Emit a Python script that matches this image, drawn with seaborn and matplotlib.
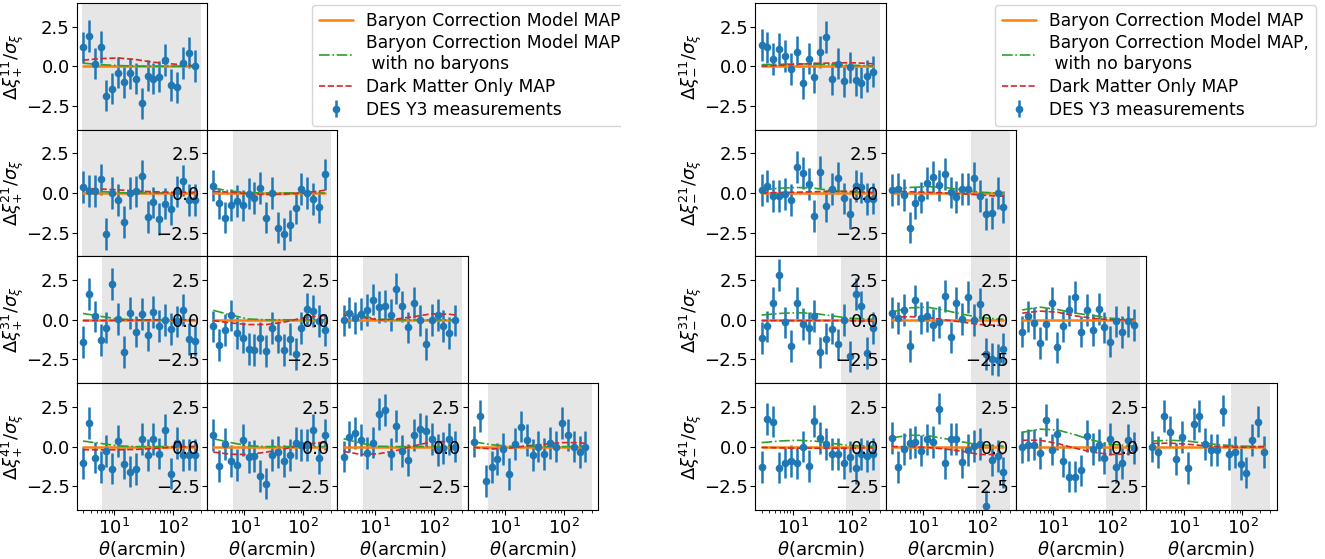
import matplotlib
matplotlib.use("Agg")
import matplotlib.pyplot as plt
from matplotlib.patches import Rectangle
import seaborn as sns

# angular bins (arcmin) of the DES Y3 data vector
theta = [2.94, 3.70, 4.66, 5.87, 7.39, 9.30, 11.71, 14.74, 18.56, 23.36,
         29.41, 37.03, 46.61, 58.68, 73.87, 93.00, 117.1, 147.4, 185.6, 233.5]
# nodes where the model curves are tabulated
theta_model = [2.94, 5.87, 11.71, 23.36, 46.61, 93.0, 185.6, 233.5]
bcm_map = [0.0, 0.0, 0.0, 0.0, 0.0, 0.0, 0.0, 0.0]
err = 1.0  # residuals are in units of sigma

bins = ["11", "21", "22", "31", "32", "33", "41", "42", "43", "44"]

# xi_plus residuals
xip_11 = [1.18, 1.91, 0.17, 1.22, -1.85, -1.41, -0.40, -1.01, -0.46, -0.78, -2.35, -0.59, -0.78, -0.65, 0.40, -1.18, -1.34, 0.21, 0.86, 0.0]
xip_21 = [0.38, 0.13, 0.13, 0.86, -2.60, 0.0, -0.46, -1.85, 0.0, 0.10, 1.07, -1.51, -0.59, -1.62, -0.67, -0.99, 0.10, 0.78, -0.44, -0.44]
xip_22 = [0.47, -0.66, -1.55, -0.74, -0.49, -0.78, -0.04, -0.32, 0.30, -1.55, 0.0, -2.18, -2.60, -2.05, -0.97, 0.25, 0.0, -0.40, -0.89, 1.17]
xip_31 = [-1.40, 1.63, 0.21, -1.27, -0.49, 2.25, 0.06, -2.01, 0.42, -0.74, 0.38, -0.95, 0.51, -0.38, 0.0, -0.57, -0.10, 0.64, -1.19, -1.31]
xip_32 = [-0.42, -1.59, -0.66, 0.28, -0.85, -1.12, -1.84, -1.91, -1.17, -1.95, -0.53, -1.12, -1.91, -1.19, -2.16, -0.53, 0.68, 0.55, -0.08, -0.66]
xip_33 = [-0.04, 0.46, 0.10, 0.38, 0.61, 1.28, 0.82, 0.88, 0.32, 1.97, 0.84, -0.48, 1.09, -0.04, -1.51, 0.0, 0.32, -0.38, -0.84, -0.04]
xip_41 = [-1.03, 1.49, -0.69, -1.30, -0.29, -1.39, 0.34, -1.07, -1.58, -1.41, 0.46, -0.55, 0.48, -0.44, 1.05, -1.70, 0.23, -0.53, -0.50, -0.55]
xip_42 = [0.74, -1.23, 0.17, -0.89, -1.14, 0.42, -0.64, -0.59, -1.84, -2.33, -0.55, -0.32, -0.89, -0.51, 0.21, 0.11, 0.11, 1.06, -0.74, 0.76]
xip_43 = [-0.63, 0.63, 0.84, 0.42, -0.42, 0.25, 2.04, 2.29, -0.46, 1.32, -0.27, -0.84, 0.74, 1.11, 0.99, 0.46, -0.21, -0.10, 0.46, 0.0]
xip_44 = [0.32, 1.93, -2.16, -1.30, -0.80, -0.17, -1.74, 0.17, 1.26, 0.42, -0.53, 0.0, -0.46, 0.21, 0.0, 1.51, 0.74, 0.0, -0.36, 0.0]

# xi_minus residuals
xim_11 = [1.32, 1.18, 0.46, 1.09, 0.63, -0.19, 0.92, -1.07, 0.48, -0.71, 0.90, 1.83, -0.80, 0.17, -0.95, -0.08, -0.90, -1.03, -0.63, -0.34]
xim_21 = [0.21, 0.42, -0.17, -0.17, -0.06, -0.42, 1.64, 1.28, 0.57, -1.45, 1.32, -0.80, 0.25, 0.97, -0.34, -1.30, 0.46, 0.35, -0.40, -0.35]
xim_22 = [0.21, 0.27, -0.11, -2.18, -0.61, -0.29, 0.63, 1.01, 0.48, 1.18, 0.04, -0.25, 0.25, 0.25, 0.97, -0.19, -1.32, -1.24, 0.02, -0.88]
xim_31 = [-1.13, -0.42, 1.05, 2.82, -0.17, -1.64, 1.05, -0.25, -0.50, 0.25, -2.06, -1.18, -0.55, -1.55, 0.0, -2.31, 1.64, 0.84, -2.08, -0.50]
xim_32 = [0.46, 0.10, 0.63, -1.64, 1.22, 0.10, 0.21, -0.32, -0.15, 1.51, -1.11, 1.05, 0.06, 1.43, 0.0, 0.99, -2.14, -2.46, -2.52, -1.85]
xim_33 = [-0.74, 0.21, -0.21, -1.47, -0.25, 1.05, -1.74, -0.42, 0.59, 1.45, -0.74, 0.63, -0.65, 0.69, -0.48, -1.37, -0.10, -0.76, -0.10, -0.34]
xim_41 = [-1.30, 1.72, 1.58, -1.32, -1.01, -0.90, -1.05, 0.0, -1.22, 1.62, 0.53, 0.17, -0.48, -0.48, -1.05, -0.63, -1.37, -0.48, -0.59, -0.48]
xim_42 = [0.55, -1.30, -0.15, 0.20, 0.30, -0.25, 0.45, 0.30, 2.40, -1.05, 0.49, 0.49, -1.00, -0.23, 0.02, 0.17, -3.75, -0.83, -0.61, -1.63]
xim_43 = [-0.04, 0.08, 0.13, -0.40, 1.67, -0.19, 0.80, -0.89, -1.89, -1.89, -1.50, 0.66, -0.13, 0.08, -0.74, 0.49, -1.31, -1.04, 0.44, -0.10]
xim_44 = [0.0, -0.36, 1.93, 0.95, -0.80, 0.59, -1.37, 1.43, 1.93, 0.15, -0.21, -0.21, 2.27, -0.48, -0.36, -1.11, -1.64, 0.42, 1.58, -0.32]

# Dark matter only MAP (dmo) and BCM MAP without baryons (nob), xi_plus
dmo_p11 = [0.38, 0.48, 0.52, 0.42, 0.25, 0.15, 0.06, 0.02]
nob_p11 = [0.19, 0.10, 0.04, 0.01, 0.0, 0.0, 0.0, 0.0]
dmo_p21 = [0.30, 0.25, 0.20, 0.12, 0.08, 0.05, 0.05, 0.05]
nob_p21 = [0.20, 0.10, 0.02, 0.0, 0.0, 0.0, 0.0, 0.0]
dmo_p22 = [0.10, 0.05, -0.05, -0.10, -0.08, 0.0, 0.12, 0.18]
nob_p22 = [0.30, 0.12, 0.02, 0.0, 0.0, 0.0, 0.0, 0.0]
dmo_p31 = [-0.05, -0.05, -0.03, -0.02, 0.0, 0.0, 0.0, 0.0]
nob_p31 = [0.40, 0.22, 0.05, 0.0, 0.0, 0.0, 0.0, 0.0]
dmo_p32 = [-0.05, -0.20, -0.30, -0.30, -0.15, 0.10, 0.25, 0.25]
nob_p32 = [0.60, 0.30, 0.05, 0.0, 0.0, 0.0, 0.0, 0.0]
dmo_p33 = [0.30, 0.15, 0.0, 0.05, 0.20, 0.38, 0.35, 0.30]
nob_p33 = [0.50, 0.25, 0.03, 0.0, 0.0, 0.0, 0.0, 0.0]
dmo_p41 = [-0.20, -0.20, -0.20, -0.18, -0.12, -0.05, 0.0, 0.0]
nob_p41 = [0.35, 0.20, 0.05, 0.0, 0.0, 0.0, 0.0, 0.0]
dmo_p42 = [-0.35, -0.48, -0.50, -0.35, -0.15, 0.10, 0.25, 0.25]
nob_p42 = [0.50, 0.25, 0.05, 0.0, 0.0, 0.0, 0.0, 0.0]
dmo_p43 = [-0.30, -0.50, -0.45, -0.25, 0.05, 0.30, 0.32, 0.30]
nob_p43 = [0.50, 0.20, 0.02, 0.0, 0.0, 0.0, 0.0, 0.0]
dmo_p44 = [-0.05, -0.15, -0.10, 0.05, 0.15, 0.25, 0.25, 0.20]
nob_p44 = [0.30, 0.12, 0.02, 0.0, 0.0, 0.0, 0.0, 0.0]

# same, xi_minus
dmo_m11 = [0.0, 0.05, 0.12, 0.18, 0.20, 0.22, 0.18, 0.15]
nob_m11 = [0.10, 0.12, 0.15, 0.13, 0.10, 0.06, 0.03, 0.02]
dmo_m21 = [0.0, 0.03, 0.05, 0.08, 0.10, 0.10, 0.05, 0.03]
nob_m21 = [0.20, 0.30, 0.35, 0.30, 0.15, 0.08, 0.03, 0.02]
dmo_m22 = [0.10, 0.08, 0.05, 0.0, -0.05, -0.12, -0.20, -0.20]
nob_m22 = [0.25, 0.35, 0.40, 0.35, 0.20, 0.05, 0.0, 0.0]
dmo_m31 = [-0.05, -0.05, -0.05, -0.05, -0.05, -0.05, -0.08, -0.10]
nob_m31 = [0.30, 0.40, 0.45, 0.40, 0.25, 0.10, 0.05, 0.03]
dmo_m32 = [0.15, 0.20, 0.15, 0.0, -0.15, -0.30, -0.35, -0.35]
nob_m32 = [0.50, 0.75, 0.80, 0.60, 0.35, 0.15, 0.05, 0.03]
dmo_m33 = [0.42, 0.55, 0.48, 0.25, 0.10, 0.0, 0.0, 0.02]
nob_m33 = [0.62, 0.80, 0.65, 0.42, 0.28, 0.10, 0.04, 0.03]
dmo_m41 = [-0.05, -0.08, -0.10, -0.10, -0.10, -0.10, -0.08, -0.08]
nob_m41 = [0.25, 0.35, 0.40, 0.35, 0.20, 0.07, 0.03, 0.02]
dmo_m42 = [0.0, 0.0, -0.05, -0.15, -0.30, -0.50, -0.50, -0.45]
nob_m42 = [0.55, 0.72, 0.70, 0.50, 0.30, 0.10, 0.05, 0.03]
dmo_m43 = [0.40, 0.40, 0.20, -0.10, -0.35, -0.50, -0.45, -0.35]
nob_m43 = [0.90, 1.10, 1.05, 0.75, 0.40, 0.15, 0.05, 0.03]
dmo_m44 = [0.20, 0.22, 0.15, 0.05, 0.0, -0.05, -0.02, 0.0]
nob_m44 = [0.35, 0.40, 0.35, 0.20, 0.10, 0.03, 0.01, 0.0]

# scale cuts: shaded band = scales used, from cut to theta_max
cuts_xip = [2.8, 2.8, 6.3, 6.3, 6.3, 6.3, 6.3, 6.3, 6.3, 5.1]
cuts_xim = [26, 26, 65, 65, 65, 79, 81, 81, 79, 63]
theta_max = 300

labels = ["Baryon Correction Model MAP",
          "Baryon Correction Model MAP,\n with no baryons",
          "Dark Matter Only MAP",
          "DES Y3 measurements"]

g = globals()
panels = {
    "+": [(g["xip_" + b], g["dmo_p" + b], g["nob_p" + b], c) for b, c in zip(bins, cuts_xip)],
    "-": [(g["xim_" + b], g["dmo_m" + b], g["nob_m" + b], c) for b, c in zip(bins, cuts_xim)],
}

sns.set_style("ticks", rc={"axes.edgecolor": "black", "xtick.color": "black",
                           "ytick.color": "black", "text.color": "black",
                           "axes.labelcolor": "black"})
plt.rcParams["font.family"] = ["DejaVu Sans"]
plt.rcParams["font.size"] = 13
plt.rcParams["xtick.labelsize"] = 13
plt.rcParams["ytick.labelsize"] = 13
plt.rcParams["ytick.major.pad"] = 1.5
plt.rcParams["xtick.major.pad"] = 2

W, H = 1325, 559
fig = plt.figure(figsize=(W / 100, H / 100), dpi=100)
col_w = 130.3 / W
row_h = 126.8 / H
y0 = (H - 510) / H
grid_x0 = {"+": 76.7 / W, "-": 755.3 / W}

for sign in ["+", "-"]:
    k = 0
    first_ax = None
    for i in range(4):
        for j in range(i + 1):
            data, dmo, nob, cut = panels[sign][k]
            k += 1
            ax = fig.add_axes([grid_x0[sign] + j * col_w, y0 + (3 - i) * row_h, col_w, row_h])
            ax.set_xscale("log")
            ax.axvspan(cut, theta_max, color="0.9", lw=0, zorder=0)
            ax.errorbar(theta, data, yerr=err, fmt="o", color="tab:blue", ms=4.5,
                        elinewidth=1.8, label=labels[3])
            sns.lineplot(x=theta_model, y=bcm_map, ax=ax, color="tab:orange", lw=1.8,
                         label=labels[0], legend=False)
            sns.lineplot(x=theta_model, y=nob, ax=ax, color="tab:green", lw=1.2,
                         linestyle="-.", label=labels[1], legend=False)
            sns.lineplot(x=theta_model, y=dmo, ax=ax, color="tab:red", lw=1.2,
                         linestyle="--", label=labels[2], legend=False)
            ax.set_xlim(2.3, 380)
            ax.set_ylim(-4, 4)
            ax.set_yticks([-2.5, 0, 2.5])
            if j == 0:
                ax.set_ylabel(r"$\Delta\xi^{%d1}_{%s}/\sigma_{\xi}$" % (i + 1, sign),
                              labelpad=0)
            if i == 3:
                ax.set_xlabel(r"$\theta$(arcmin)", labelpad=1)
            else:
                ax.tick_params(axis="x", labelbottom=False)
            if first_ax is None:
                first_ax = ax
    handles, labs = first_ax.get_legend_handles_labels()
    if sign == "+":
        fig.legend(handles, labs, loc="upper left", bbox_to_anchor=(311.7 / W, 1 - 4.7 / H),
                   borderaxespad=0, fontsize=12.3, labelspacing=0.28)
    else:
        fig.legend(handles, labs, loc="upper right", bbox_to_anchor=(1316 / W, 1 - 4.7 / H),
                   borderaxespad=0, fontsize=12.3, labelspacing=0.28)

# the xi_plus figure is cropped on its right side
fig.add_artist(Rectangle((621 / W, 0), 36 / W, 1, transform=fig.transFigure,
                         facecolor="white", edgecolor="none", zorder=10))

fig.savefig("out.png", dpi=100)
